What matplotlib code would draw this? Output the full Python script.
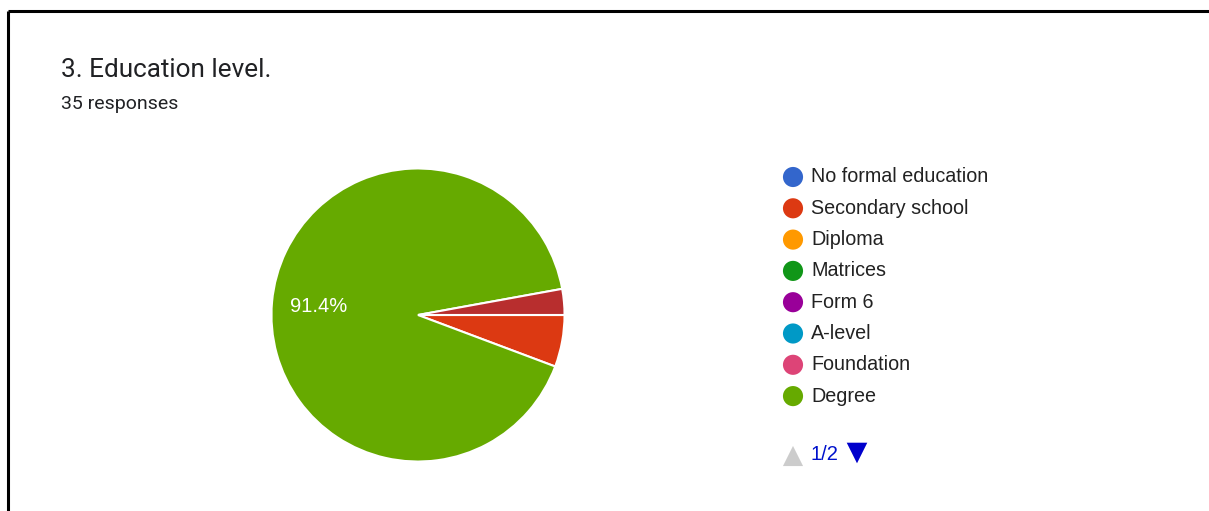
import matplotlib.pyplot as plt

# responses per education level (35 total); last one sits on legend page 2
levels = ["No formal education", "Secondary school", "Diploma", "Matrices",
          "Form 6", "A-level", "Foundation", "Degree", "Master"]
counts = [0, 2, 0, 0, 0, 0, 0, 32, 1]
colors = ["#3366cc", "#dc3912", "#ff9900", "#109618", "#990099",
          "#0099c6", "#dd4477", "#66aa00", "#b82e2e"]
title = "3. Education level."
n_resp = sum(counts)

W, H = 1209, 511
fig = plt.figure(figsize=(W / 100, H / 100), dpi=100)
fig.patch.set_facecolor("white")

# overlay axes in pixel coordinates for text, frame lines and legend
over = fig.add_axes([0, 0, 1, 1])
over.set_xlim(0, W)
over.set_ylim(H, 0)
over.axis("off")

over.plot([8, W], [11, 11], color="black", lw=2.2, solid_capstyle="butt")
over.plot([8, 8], [11, H], color="black", lw=2.2, solid_capstyle="butt")

over.text(61, 70, title, fontsize=18.8, family="Roboto", color="#202124", va="center")
over.text(61, 104, f"{n_resp} responses", fontsize=14, family="Roboto",
          color="#202124", va="center")

# pie
cx, cy, r = 418, 315, 148
pax = fig.add_axes([(cx - r) / W, (H - cy - r) / H, 2 * r / W, 2 * r / H])
pax.set_aspect("equal")


def pct_label(p):
    return f"{p:.1f}%" if p > 10 else ""


nz = [(c, col) for c, col in zip(counts, colors) if c > 0]
wedges, _, autotexts = pax.pie(
    [c for c, _ in nz], colors=[col for _, col in nz], startangle=0,
    counterclock=False, radius=1, autopct=pct_label, pctdistance=0.68,
    wedgeprops=dict(edgecolor="white", linewidth=1.5))
for t in autotexts:
    t.set_color("white")
    t.set_fontsize(14.5)
    t.set_family("Liberation Sans")
pax.set_xlim(-1.01, 1.01)
pax.set_ylim(-1.01, 1.01)
pax.axis("off")

# legend page 1 (first 8 entries)
y0, dy = 177, 31.3
for i, (lab, col) in enumerate(zip(levels[:8], colors[:8])):
    y = y0 + i * dy
    over.scatter([793], [y], s=210, color=col, edgecolors="none")
    over.text(811, y, lab, fontsize=14.2, family="Liberation Sans",
              color="#222222", va="center")

# pager
over.scatter([793], [456], marker="^", s=210, color="#cccccc", edgecolors="none")
over.text(811, 455, "1/2", fontsize=14.5, family="Liberation Sans",
          color="#0011cc", va="center")
over.scatter([857], [453], marker="v", s=220, color="#0000cc", edgecolors="none")

fig.savefig("out.png", dpi=100, facecolor="white")
